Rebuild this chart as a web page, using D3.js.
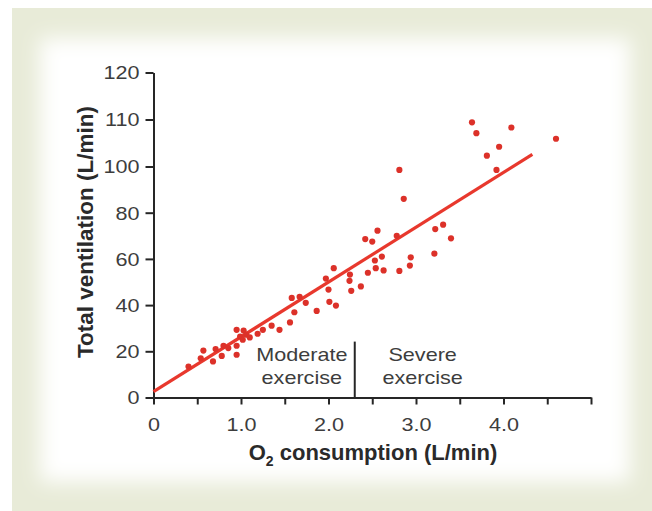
<!DOCTYPE html>
<html>
<head>
<meta charset="utf-8">
<script src="https://cdn.jsdelivr.net/npm/d3@7"></script>
<style>
    html, body { margin: 0; padding: 0; background: #ffffff; }
    svg { display: block; }
</style>
</head>
<body>
<div id="chart"></div>
<script>
//// ============================================ DATA ============================================ ////

var o2Consumption = [
    0.40, 0.54, 0.57, 0.68, 0.71, 0.78, 0.80, 0.855, 0.95, 0.95, 0.95, 0.99, 1.02, 1.03, 1.06, 1.10,
    1.19, 1.25, 1.35, 1.44, 1.56, 1.58, 1.61, 1.67, 1.74, 1.865, 1.97, 2.00, 2.01, 2.06, 2.085,
    2.245, 2.24, 2.26, 2.37, 2.42, 2.45, 2.50, 2.56, 2.53, 2.54, 2.61, 2.63, 2.78, 2.81, 2.81, 2.86,
    2.94, 2.93, 3.21, 3.22, 3.31, 3.40, 3.64, 3.69, 4.09, 3.81, 3.95, 3.92, 4.60
];

var totalVentilation = [
    13.4, 17.0, 20.3, 15.6, 21.0, 18.0, 22.4, 21.4, 22.4, 18.5, 29.3, 26.4, 25.0, 29.0, 27.2, 26.0,
    27.6, 29.3, 31.1, 29.3, 32.5, 43.1, 36.9, 43.6, 41.0, 37.5, 51.5, 46.7, 41.4, 56.0, 39.8,
    53.2, 50.5, 46.2, 48.1, 68.6, 54.0, 67.5, 72.2, 59.3, 56.0, 61.0, 55.0, 70.0, 54.8, 98.5, 86.0,
    60.7, 57.1, 62.3, 72.9, 74.8, 68.9, 109.4, 107.1, 108.3, 102.3, 104.2, 98.5, 105.9
];

// fitted line, two end points [O2, ventilation]
var fitLine = [[0, 2.5], [4.33, 102.6]];

// boundary between moderate and severe exercise
var exerciseBoundary = 2.3;
var boundaryTop = 24.2;

var xTicks = [0, 0.5, 1, 1.5, 2, 2.5, 3, 3.5, 4, 4.5, 5];
var xTickLabels = ["0", "", "1.0", "", "2.0", "", "3.0", "", "4.0", "", ""];
var yTicks = [0, 20, 40, 60, 80, 100, 110, 120];

var zoneLabels = [
    { x: 1.695, lines: ["Moderate", "exercise"] },
    { x: 3.076, lines: ["Severe", "exercise"] }
];

//// ============================================ LAYOUT ============================================ ////

var width = 652;
var height = 511;
var stretch = 1.2; // the scanned lettering is wider than normal

var svg = d3.select("#chart").append("svg")
    .attr("width", width)
    .attr("height", height);

var defs = svg.append("defs");
defs.append("filter")
    .attr("id", "soft")
    .attr("x", "-10%").attr("y", "-10%")
    .attr("width", "120%").attr("height", "120%")
    .append("feGaussianBlur")
    .attr("stdDeviation", 10);

// greenish paper frame with a soft white panel
svg.append("rect")
    .attr("x", 12).attr("y", 8)
    .attr("width", width - 12).attr("height", height - 8)
    .style("fill", "#e8ebd8");

svg.append("rect")
    .attr("x", 40).attr("y", 38)
    .attr("width", 590).attr("height", 444)
    .style("fill", "#ffffff")
    .attr("filter", "url(#soft)");

//// ============================================ SCALES ============================================ ////

var x = d3.scaleLinear()
    .domain([0, 5])
    .range([153.5, 591]);

// the printed axis changes step above 100
var y = d3.scaleLinear()
    .domain([0, 100, 120])
    .range([397.5, 166.5, 72.5]);

//// ============================================ AXES ============================================ ////

var xAxis = svg.append("g")
    .attr("transform", "translate(0," + y(0) + ")")
    .call(d3.axisBottom(x)
        .tickValues(xTicks)
        .tickSize(7)
        .tickSizeOuter(0)
        .tickFormat(function(d, i) { return xTickLabels[i]; }));

var yAxis = svg.append("g")
    .attr("transform", "translate(" + x(0) + ",0)")
    .call(d3.axisLeft(y)
        .tickValues(yTicks)
        .tickSize(8)
        .tickSizeOuter(0)
        .tickFormat(d3.format("d")));

svg.selectAll(".domain, .tick line")
    .style("stroke", "#262626")
    .style("stroke-width", 2);

svg.selectAll(".tick text")
    .style("font-family", "'Liberation Sans', Arial, sans-serif")
    .style("font-size", "18px")
    .style("fill", "#3d3d3d");

xAxis.selectAll(".tick text")
    .attr("y", 0)
    .attr("dy", null)
    .attr("transform", "translate(0,33) scale(" + stretch + ",1)");

yAxis.selectAll(".tick text")
    .attr("x", 0)
    .attr("dy", "0.35em")
    .attr("transform", "translate(-14,0) scale(" + stretch + ",1)");

// axis titles
svg.append("text")
    .attr("transform", "translate(93,232) rotate(-90)")
    .style("text-anchor", "middle")
    .style("font-family", "'Liberation Sans', Arial, sans-serif")
    .style("font-weight", "bold")
    .style("font-size", "22.5px")
    .style("fill", "#2a2a2a")
    .text("Total ventilation (L/min)");

var xTitle = svg.append("text")
    .attr("x", 373)
    .attr("y", 460)
    .style("text-anchor", "middle")
    .style("font-family", "'Liberation Sans', Arial, sans-serif")
    .style("font-weight", "bold")
    .style("font-size", "22px")
    .style("fill", "#2a2a2a");
xTitle.append("tspan").text("O");
xTitle.append("tspan").attr("dy", 6).style("font-size", "14px").text("2");
xTitle.append("tspan").attr("dy", -6).text(" consumption (L/min)");

//// ============================================ ZONES ============================================ ////

svg.append("line")
    .attr("x1", x(exerciseBoundary)).attr("x2", x(exerciseBoundary))
    .attr("y1", y(0)).attr("y2", y(boundaryTop))
    .style("stroke", "#262626")
    .style("stroke-width", 2);

zoneLabels.forEach(function(z) {
    z.lines.forEach(function(line, i) {
        svg.append("text")
            .attr("transform", "translate(" + x(z.x) + "," + (361 + i * 23) + ") scale(" + stretch + ",1)")
            .style("text-anchor", "middle")
            .style("font-family", "'Liberation Sans', Arial, sans-serif")
            .style("font-size", "18px")
            .style("fill", "#3d3d3d")
            .text(line);
    });
});

//// ============================================ MARKS ============================================ ////

svg.append("path")
    .datum(fitLine)
    .attr("d", d3.line()
        .x(function(d) { return x(d[0]); })
        .y(function(d) { return y(d[1]); }))
    .style("fill", "none")
    .style("stroke", "#e8382d")
    .style("stroke-width", 3.2);

svg.selectAll("circle.dot")
    .data(d3.range(o2Consumption.length))
    .enter().append("circle")
    .attr("class", "dot")
    .attr("cx", function(i) { return x(o2Consumption[i]); })
    .attr("cy", function(i) { return y(totalVentilation[i]); })
    .attr("r", 3.1)
    .style("fill", "#dc3129");
</script>
</body>
</html>
